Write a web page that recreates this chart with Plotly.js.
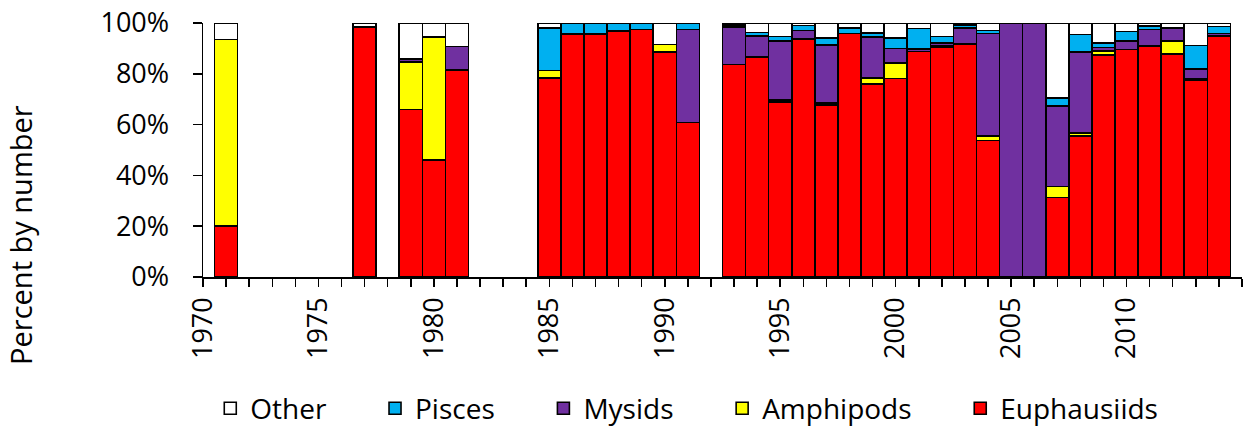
<!DOCTYPE html>
<html>
<head>
<meta charset="utf-8">
<script src="https://cdn.plot.ly/plotly-3.0.1.min.js"></script>
<style>html,body{margin:0;padding:0;background:#fff;}#chart{width:1249px;height:428px;}</style>
</head>
<body>
<div id="chart"></div>
<script>
// Survey years with data
var years = [1971, 1977, 1979, 1980, 1981,
  1985, 1986, 1987, 1988, 1989, 1990, 1991,
  1993, 1994, 1995, 1996, 1997, 1998, 1999, 2000, 2001, 2002, 2003,
  2004, 2005, 2006, 2007, 2008, 2009, 2010, 2011, 2012, 2013, 2014];

// Percent by number of each prey group
var euphausiids = [20, 98.5, 66, 46, 81.5,
  78.3, 95.7, 95.6, 96.8, 97.4, 88.7, 60.9,
  83.6, 86.6, 68.9, 93.8, 67.8, 95.9, 76.1, 78.1, 88.8, 90.6, 91.7,
  53.8, 0, 0, 31.3, 55.6, 87.5, 89.5, 91.0, 87.9, 77.3, 95.0];
var amphipods = [73.5, 0, 18.7, 48.5, 0,
  3.0, 0, 0, 0, 0, 2.9, 0,
  0, 0, 0.7, 0, 0.8, 0, 2.2, 6.2, 0, 0.5, 0,
  1.8, 0, 0, 4.4, 1.1, 1.4, 0, 0, 4.9, 0.6, 0];
var mysids = [0, 0, 1.2, 0, 9.3,
  0, 0, 0, 0, 0, 0, 36.5,
  14.8, 8.4, 23.4, 3.2, 22.8, 0, 16.2, 5.6, 1.0, 1.0, 6.3,
  40.2, 100, 100, 31.7, 31.9, 1.5, 3.3, 6.5, 5.2, 4.0, 0.9];
var pisces = [0, 0, 0, 0, 0,
  16.7, 4.3, 4.4, 3.2, 2.6, 0, 2.6,
  0.8, 1.3, 1.7, 2.0, 2.7, 2.1, 1.6, 4.2, 8.0, 2.6, 1.1,
  1.3, 0, 0, 3.1, 6.8, 1.8, 3.9, 1.3, 0, 9.2, 2.8];
var other = [6.5, 1.5, 14.1, 5.5, 9.2,
  2.0, 0, 0, 0, 0, 8.4, 0,
  0.8, 3.7, 5.3, 1.0, 5.9, 2.0, 3.9, 5.9, 2.2, 5.3, 0.9,
  2.9, 0, 0, 29.5, 4.6, 7.8, 3.3, 1.2, 2.0, 8.9, 1.3];

var seriesNames = ['Euphausiids', 'Amphipods', 'Mysids', 'Pisces', 'Other'];
var seriesValues = [euphausiids, amphipods, mysids, pisces, other];
var seriesColors = ['#FF0000', '#FFFF00', '#7030A0', '#00B0F0', '#FFFFFF'];

var pad = '\u00A0\u00A0\u00A0\u00A0\u00A0\u00A0';
var FONT = '"Open Sans", "Noto Sans", sans-serif';

var traces = seriesNames.map(function (name, i) {
  return {
    type: 'bar',
    name: name + pad,
    x: years,
    y: seriesValues[i].map(function (v) { return v === 0 ? null : v; }),
    width: 1,
    marker: { color: seriesColors[i], line: { color: '#000000', width: 1.6 } },
    hoverinfo: 'skip'
  };
});

var layout = {
  width: 1249,
  height: 428,
  margin: { l: 203, r: 7, t: 23, b: 151, autoexpand: false },
  paper_bgcolor: '#ffffff',
  plot_bgcolor: '#ffffff',
  barmode: 'stack',
  bargap: 0,
  font: { family: FONT, size: 27, color: '#000000' },
  showlegend: true,
  legend: {
    orientation: 'h',
    traceorder: 'reversed',
    x: 0.007, xanchor: 'left', xref: 'paper',
    y: -0.518, yanchor: 'middle',
    font: { family: FONT, size: 28, color: '#000000' },
    bgcolor: 'rgba(0,0,0,0)'
  },
  xaxis: {
    type: 'linear',
    range: [1970, 2015],
    tick0: 1970,
    dtick: 5,
    tickangle: -90,
    ticks: 'outside',
    ticklen: 8,
    tickwidth: 1.5,
    tickcolor: '#000000',
    minor: { dtick: 1, tick0: 1970, ticks: 'outside', ticklen: 8, tickwidth: 1.5, tickcolor: '#000000', showgrid: false },
    showline: true,
    linecolor: '#000000',
    linewidth: 1.5,
    showgrid: false,
    zeroline: false,
    tickfont: { family: FONT, size: 27, color: '#000000' },
    fixedrange: true
  },
  yaxis: {
    range: [0, 100],
    tick0: 0,
    dtick: 20,
    ticksuffix: '%',
    ticks: 'outside',
    ticklen: 9,
    tickwidth: 1.5,
    tickcolor: '#000000',
    ticklabelstandoff: 18,
    showline: true,
    linecolor: '#000000',
    linewidth: 1.5,
    showgrid: false,
    zeroline: false,
    tickfont: { family: FONT, size: 27, color: '#000000' },
    fixedrange: true
  },
  annotations: [{
    text: 'Percent by number',
    xref: 'paper', yref: 'paper',
    x: -0.175, y: 0.1665,
    xanchor: 'center', yanchor: 'middle',
    textangle: -90,
    showarrow: false,
    font: { family: FONT, size: 29, color: '#000000' }
  }]
};

Plotly.newPlot('chart', traces, layout, { staticPlot: true, displayModeBar: false });
</script>
</body>
</html>
